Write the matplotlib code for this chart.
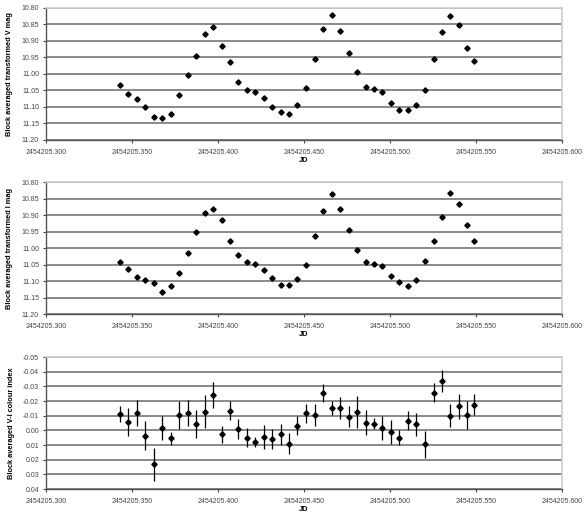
import numpy as np
import matplotlib
matplotlib.use("Agg")
import matplotlib.pyplot as plt
from matplotlib.ticker import MultipleLocator, FuncFormatter

plt.rcParams['font.family'] = ['Liberation Sans', 'DejaVu Sans']

# block mid-times, JD - 2454205
jd_frac = [0.3428, 0.3479, 0.3528, 0.3577, 0.3626, 0.3676, 0.3725, 0.3774, 0.3823, 0.3873,
           0.3922, 0.3971, 0.4021, 0.4069, 0.4119, 0.4168, 0.4217, 0.4266, 0.4315, 0.4364,
           0.4412, 0.4461, 0.4512, 0.4561, 0.4610, 0.4660, 0.4711, 0.4760, 0.4809, 0.4858,
           0.4907, 0.4955, 0.5005, 0.5054, 0.5103, 0.5153, 0.5203, 0.5253, 0.5302, 0.5350,
           0.5399, 0.5449, 0.5488]

v_mag = [11.033, 11.060, 11.077, 11.101, 11.130, 11.134, 11.120, 11.065, 11.004, 10.947,
         10.880, 10.859, 10.916, 10.965, 11.024, 11.048, 11.055, 11.074, 11.099, 11.115,
         11.122, 11.094, 11.041, 10.954, 10.863, 10.821, 10.871, 10.937, 10.993, 11.038,
         11.046, 11.054, 11.089, 11.108, 11.110, 11.094, 11.049, 10.954, 10.873, 10.823,
         10.851, 10.922, 10.962]

i_mag = [11.043, 11.064, 11.088, 11.096, 11.106, 11.133, 11.114, 11.075, 11.014, 10.951,
         10.894, 10.882, 10.914, 10.978, 11.022, 11.042, 11.047, 11.068, 11.092, 11.111,
         11.111, 11.094, 11.052, 10.963, 10.888, 10.835, 10.883, 10.946, 11.005, 11.042,
         11.049, 11.055, 11.086, 11.102, 11.115, 11.096, 11.038, 10.979, 10.905, 10.834,
         10.866, 10.930, 10.979]

i_err = [0.003, 0.003, 0.004, 0.005, 0.004, 0.003, 0.003, 0.003, 0.003, 0.003,
         0.005, 0.004, 0.003, 0.003, 0.003, 0.004, 0.003, 0.003, 0.003, 0.003,
         0.003, 0.003, 0.003, 0.003, 0.004, 0.003, 0.004, 0.003, 0.003, 0.003,
         0.003, 0.003, 0.003, 0.003, 0.003, 0.003, 0.004, 0.004, 0.003, 0.003,
         0.003, 0.004, 0.003]

vi = [-0.0110, -0.0056, -0.0119, 0.0037, 0.0232, -0.0017, 0.0053, -0.0105, -0.0117, -0.0044,
      -0.0128, -0.0241, 0.0026, -0.0135, -0.0008, 0.0051, 0.0080, 0.0044, 0.0060, 0.0028,
      0.0090, -0.0033, -0.0115, -0.0105, -0.0255, -0.0153, -0.0153, -0.0094, -0.0124, -0.0053,
      -0.0044, -0.0017, 0.0010, 0.0049, -0.0067, -0.0040, 0.0096, -0.0255, -0.0337, -0.0101,
      -0.0164, -0.0105, -0.0176]

vi_err = [0.0055, 0.0094, 0.0086, 0.0100, 0.0110, 0.0084, 0.0045, 0.0093, 0.0090, 0.0098,
          0.0110, 0.0087, 0.0057, 0.0063, 0.0068, 0.0065, 0.0036, 0.0083, 0.0068, 0.0074,
          0.0074, 0.0065, 0.0062, 0.0076, 0.0063, 0.0049, 0.0077, 0.0070, 0.0110, 0.0086,
          0.0038, 0.0082, 0.0083, 0.0054, 0.0063, 0.0077, 0.0091, 0.0065, 0.0076, 0.0080,
          0.0084, 0.0096, 0.0070]

jd0 = 2454205.0
jd = jd0 + np.array(jd_frac)
xticks = jd0 + np.array([0.300, 0.350, 0.400, 0.450, 0.500, 0.550, 0.600])

fig = plt.figure(figsize=(5.84, 5.12), dpi=100)

panels = [
    (0.7266, v_mag, None, (11.20, 10.80), 0.05, 'Block averaged transformed V mag'),
    (0.3867, i_mag, i_err, (11.20, 10.80), 0.05, 'Block averaged transformed I mag'),
    (0.0449, vi, vi_err, (0.04, -0.05), 0.01, 'Block averaged V-I colour index'),
]

for bottom, y, yerr, ylim, step, label in panels:
    ax = fig.add_axes([0.0788, bottom, 0.8836, 0.2578])
    ax.errorbar(jd, y, yerr=yerr, fmt='D', color='black', ms=2.7,
                elinewidth=0.9, capsize=0, zorder=3)
    ax.set_xlim(xticks[0], xticks[-1])
    ax.set_xticks(xticks)
    ax.xaxis.set_major_formatter(FuncFormatter(lambda v, p: '%.3f' % v))
    ax.set_ylim(*ylim)
    ax.yaxis.set_major_locator(MultipleLocator(step))
    ax.yaxis.set_major_formatter(FuncFormatter(lambda v, p: '%.2f' % (round(v, 3) + 0.0)))
    ax.grid(axis='y', color='#808080', lw=1.3)
    ax.set_axisbelow(True)
    for s in ['top', 'right']:
        ax.spines[s].set_color('#cccccc')
        ax.spines[s].set_linewidth(1.2)
    for s in ['left', 'bottom']:
        ax.spines[s].set_color('#555555')
        ax.spines[s].set_linewidth(1.0)
    ax.tick_params(labelsize=5.0, colors='#444444', length=2.5, width=0.8, pad=2.5)
    ax.tick_params(axis='x', pad=4)
    ax.set_ylabel(label, fontsize=5.3, fontweight='bold', labelpad=6)
    ax.set_xlabel('JD', fontsize=5.3, fontweight='bold', labelpad=1)

fig.savefig('out.png', dpi=100)
